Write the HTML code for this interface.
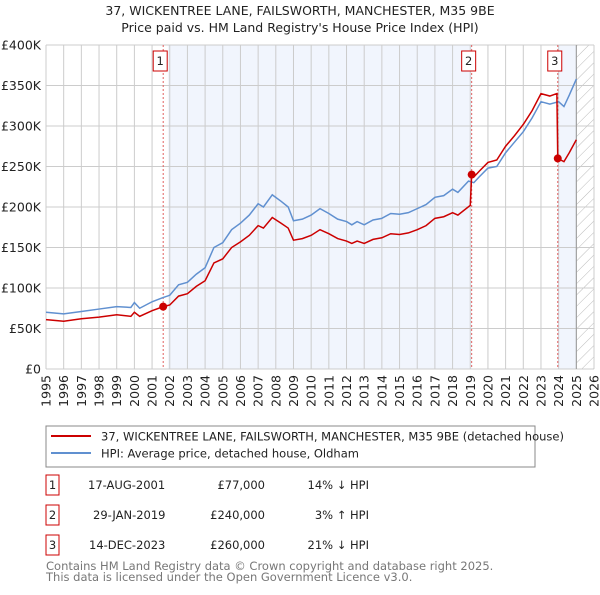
<!DOCTYPE html>
<html><head><meta charset="utf-8"><style>
body{margin:0;background:#fff;font-family:"Liberation Sans","DejaVu Sans",sans-serif;}
svg text{font-family:"DejaVu Sans","Liberation Sans",sans-serif;}
</style></head><body>
<svg id="c" width="600" height="590" xmlns="http://www.w3.org/2000/svg">
<defs><pattern id="hatch" width="8" height="8" patternUnits="userSpaceOnUse" patternTransform="rotate(45)"><line x1="0" y1="0" x2="0" y2="8" stroke="#bbb" stroke-width="1"/></pattern></defs>
<text x="300" y="15" text-anchor="middle" font-size="12.5" fill="#222">37, WICKENTREE LANE, FAILSWORTH, MANCHESTER, M35 9BE</text>
<text x="300" y="32" text-anchor="middle" font-size="12.5" fill="#222">Price paid vs. HM Land Registry's House Price Index (HPI)</text>
<g id="plot"></g>
<g>
<rect x="46" y="426" width="489" height="41" fill="#fff" stroke="#888"/>
<line x1="51" y1="436" x2="91" y2="436" stroke="#cc0000" stroke-width="2"/>
<text x="101" y="440.5" font-size="11.5" fill="#222">37, WICKENTREE LANE, FAILSWORTH, MANCHESTER, M35 9BE (detached house)</text>
<line x1="51" y1="453" x2="91" y2="453" stroke="#6090d0" stroke-width="2"/>
<text x="101" y="457.5" font-size="11.5" fill="#222">HPI: Average price, detached house, Oldham</text>
</g>
<g font-size="11.5" fill="#222">
<rect x="46" y="475" width="13" height="20" fill="#fff" stroke="#cc0000"/><text x="52.5" y="489" text-anchor="middle">1</text>
<text x="88" y="489">17-AUG-2001</text>
<text x="265" y="489" text-anchor="end">£77,000</text>
<text x="369" y="489" text-anchor="end">14% ↓ HPI</text>
<rect x="46" y="505" width="13" height="20" fill="#fff" stroke="#cc0000"/><text x="52.5" y="519" text-anchor="middle">2</text>
<text x="93" y="519">29-JAN-2019</text>
<text x="265" y="519" text-anchor="end">£240,000</text>
<text x="369" y="519" text-anchor="end">3% ↑ HPI</text>
<rect x="46" y="535" width="13" height="20" fill="#fff" stroke="#cc0000"/><text x="52.5" y="549" text-anchor="middle">3</text>
<text x="89" y="549">14-DEC-2023</text>
<text x="265" y="549" text-anchor="end">£260,000</text>
<text x="369" y="549" text-anchor="end">21% ↓ HPI</text>
</g>
<text x="46" y="570" font-size="11.5" fill="#777">Contains HM Land Registry data © Crown copyright and database right 2025.</text>
<text x="46" y="581" font-size="11.5" fill="#777">This data is licensed under the Open Government Licence v3.0.</text>
</svg>
<script>
const hpiYears=[1995,1996,1997,1998,1999,1999.8,2000,2000.3,2001,2001.6,2002,2002.5,2003,2003.5,2004,2004.5,2005,2005.5,2006,2006.5,2007,2007.3,2007.8,2008.3,2008.7,2009,2009.5,2010,2010.5,2011,2011.5,2012,2012.3,2012.6,2013,2013.5,2014,2014.5,2015,2015.5,2016,2016.5,2017,2017.5,2018,2018.3,2018.9,2019.2,2019.5,2020,2020.5,2021,2021.5,2022,2022.5,2023,2023.5,2024,2024.3,2024.6,2025];
const hpiValues=[70,68,71,74,77,76,82,75,83,88,91,104,107,117,125,150,156,172,180,190,204,200,215,207,200,183,185,190,198,192,185,182,178,182,178,184,186,192,191,193,198,203,212,214,222,218,232,230,237,248,250,267,280,293,310,330,327,330,324,338,358];
const priceYears=[1995,1996,1997,1998,1999,1999.8,2000,2000.3,2001,2001.63,2002,2002.5,2003,2003.5,2004,2004.5,2005,2005.5,2006,2006.5,2007,2007.3,2007.8,2008.3,2008.7,2009,2009.5,2010,2010.5,2011,2011.5,2012,2012.3,2012.6,2013,2013.5,2014,2014.5,2015,2015.5,2016,2016.5,2017,2017.5,2018,2018.3,2019.0,2019.08,2019.2,2019.5,2020,2020.5,2021,2021.5,2022,2022.5,2023,2023.5,2023.9,2023.95,2024.3,2024.6,2025];
const priceValues=[61,59,62,64,67,65,70,65,72,77,79,90,93,102,109,131,136,150,157,165,177,174,187,180,174,159,161,165,172,167,161,158,155,158,155,160,162,167,166,168,172,177,186,188,193,190,202,240,237,244,255,258,275,288,302,319,340,337,340,260,256,267,283];
const saleYears=[2001.63,2019.08,2023.95];
const saleValues=[77,240,260];
const saleLabels=["1","2","3"];
const yTicks=[0,50,100,150,200,250,300,350,400];
const yTickLabels=["£0","£50K","£100K","£150K","£200K","£250K","£300K","£350K","£400K"];
const xTicks=[1995,1996,1997,1998,1999,2000,2001,2002,2003,2004,2005,2006,2007,2008,2009,2010,2011,2012,2013,2014,2015,2016,2017,2018,2019,2020,2021,2022,2023,2024,2025,2026];

const L=46,R=594,T=45,B=369;
const X=y=>L+(y-1995)/(2026-1995)*(R-L);
const Y=v=>B-v/400*(B-T);
const NS="http://www.w3.org/2000/svg";
const g=document.getElementById('plot');
function mk(tag,attrs,parent){const e=document.createElementNS(NS,tag);for(const k in attrs)e.setAttribute(k,attrs[k]);(parent||g).appendChild(e);return e;}
let e;
e=mk('rect',{x:X(2001.9),y:T,width:X(2019.08)-X(2001.9),height:B-T,fill:'#eef3fc',opacity:0.8});


e=mk('rect',{x:X(2023.95),y:T,width:X(2025)-X(2023.95),height:B-T,fill:'#eef3fc',opacity:0.8});


e=mk('rect',{x:X(2025),y:T,width:R-X(2025),height:B-T,fill:'url(#hatch)'});


yTicks.forEach((v,i)=>{
  e=mk('line',{x1:L,x2:R,y1:Y(v),y2:Y(v),stroke:'#ccc','stroke-width':1});
  
  
  e=mk('text',{x:L-5,y:Y(v)+4.5,'text-anchor':'end','font-size':12.5,fill:'#222'});
  e.textContent=yTickLabels[i];
  
  
});
xTicks.forEach(yr=>{
  e=mk('line',{x1:X(yr),x2:X(yr),y1:T,y2:B,stroke:'#ccc','stroke-width':1});
  
  
  e=mk('text',{x:X(yr)+4.5,y:B+6,'text-anchor':'end','font-size':12.5,fill:'#222',transform:`rotate(-90 ${X(yr)+4.5} ${B+6})`});
  e.textContent=yr;
  
  
});
e=mk('line',{x1:X(2025),x2:X(2025),y1:T,y2:B,stroke:'#999','stroke-width':1});


saleYears.forEach((yr,i)=>{
  e=mk('line',{x1:X(yr),x2:X(yr),y1:T,y2:B,stroke:'#e06060','stroke-width':1,'stroke-dasharray':'2,2'});
  
  
});
e=mk('polyline',{points:hpiYears.map((y,i)=>X(y)+','+Y(hpiValues[i])).join(' '),fill:'none',stroke:'#6090d0','stroke-width':1.5});


e=mk('polyline',{points:priceYears.map((y,i)=>X(y)+','+Y(priceValues[i])).join(' '),fill:'none',stroke:'#cc0000','stroke-width':1.5});


saleYears.forEach((yr,i)=>{
  e=mk('circle',{cx:X(yr),cy:Y(saleValues[i]),r:4,fill:'#cc0000'});
  
  
  const bx=X(yr)-3-7;
  e=mk('rect',{x:bx,y:51,width:14,height:20,fill:'#fff',stroke:'#cc0000'});
  
  
  e=mk('text',{x:bx+7,y:65,'text-anchor':'middle','font-size':11.5,fill:'#222'});
  e.textContent=saleLabels[i];
  
  
});
</script>
</body></html>
